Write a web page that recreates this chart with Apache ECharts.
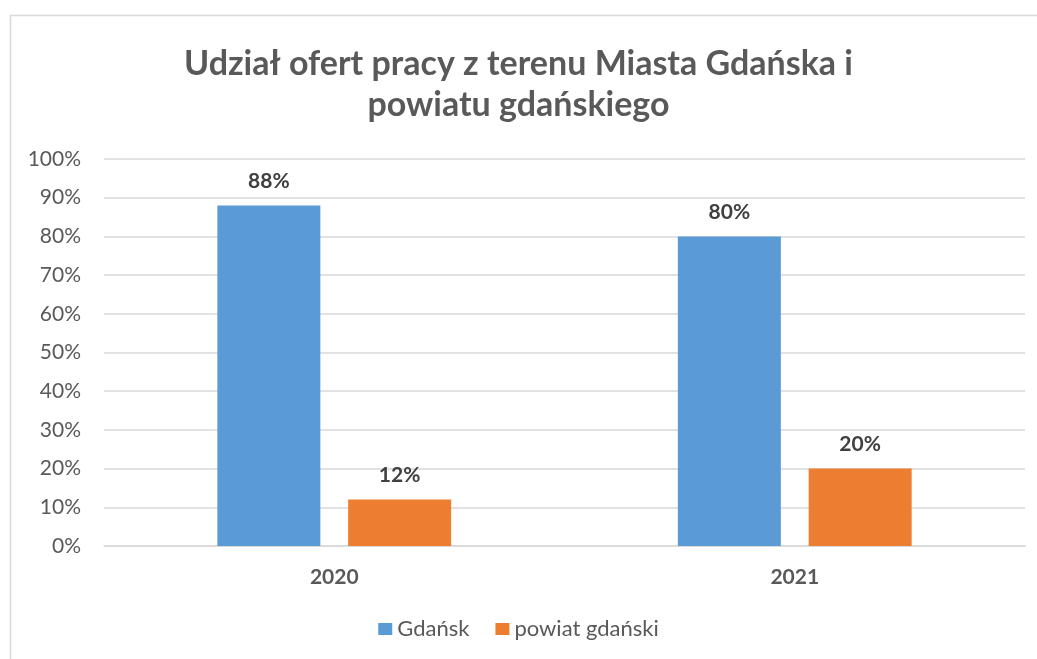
<!DOCTYPE html>
<html>
<head>
<meta charset="utf-8">
<script src="https://cdn.jsdelivr.net/npm/echarts@6/dist/echarts.min.js"></script>
<style>
html, body { margin: 0; padding: 0; background: #fff; }
#chart { width: 1037px; height: 659px; }
</style>
</head>
<body>
<div id="chart"></div>
<script>
var years = ['2020', '2021'];
var gdansk = [88, 80];
var powiat = [12, 20];
var seriesNames = ['Gdańsk', 'powiat gdański'];

window.onload = function () {
    var font = 'Lato, "Open Sans", sans-serif';
    var myChart = echarts.init(document.getElementById('chart'));
    var labelStyle = {
        show: true,
        position: 'top',
        distance: 14,
        formatter: '{c}%',
        fontFamily: font,
        fontWeight: 'bold',
        fontSize: 21,
        color: '#404040'
    };
    var option = {
        animation: false,
        backgroundColor: '#fff',
        graphic: [
            {
                type: 'rect',
                shape: { x: 10.5, y: 15.5, width: 1100, height: 800 },
                style: { fill: 'none', stroke: '#d9d9d9', lineWidth: 1.5 },
                silent: true
            }
        ],
        title: {
            text: 'Udział ofert pracy z terenu Miasta Gdańska i\npowiatu gdańskiego',
            left: 'center',
            top: 39,
            textStyle: {
                fontFamily: font,
                fontWeight: 'bold',
                fontSize: 34,
                lineHeight: 41,
                color: '#595959'
            }
        },
        legend: {
            data: seriesNames,
            bottom: 14,
            left: 'center',
            itemWidth: 14,
            itemHeight: 12,
            itemGap: 26,
            icon: 'rect',
            textStyle: { fontFamily: font, fontSize: 22, color: '#595959' }
        },
        grid: {
            left: 104,
            right: 12,
            top: 159,
            bottom: 113,
            containLabel: false
        },
        xAxis: {
            type: 'category',
            data: years,
            axisLine: { show: true, lineStyle: { color: '#d9d9d9', width: 1.5 } },
            axisTick: { show: false },
            axisLabel: {
                fontFamily: font,
                fontWeight: 'bold',
                fontSize: 21,
                color: '#595959',
                margin: 21
            }
        },
        yAxis: {
            type: 'value',
            min: 0,
            max: 100,
            interval: 10,
            axisLine: { show: false },
            axisTick: { show: false },
            splitLine: { lineStyle: { color: '#d9d9d9', width: 1.5 } },
            axisLabel: {
                formatter: '{value}%',
                fontFamily: font,
                fontSize: 21,
                color: '#595959',
                margin: 23
            }
        },
        series: [
            {
                name: seriesNames[0],
                type: 'bar',
                data: gdansk,
                barWidth: 103,
                barGap: '27%',
                itemStyle: { color: '#5b9bd5' },
                label: labelStyle
            },
            {
                name: seriesNames[1],
                type: 'bar',
                data: powiat,
                barWidth: 103,
                barGap: '27%',
                itemStyle: { color: '#ed7d31' },
                label: labelStyle
            }
        ]
    };
    myChart.setOption(option);
};
</script>
</body>
</html>
